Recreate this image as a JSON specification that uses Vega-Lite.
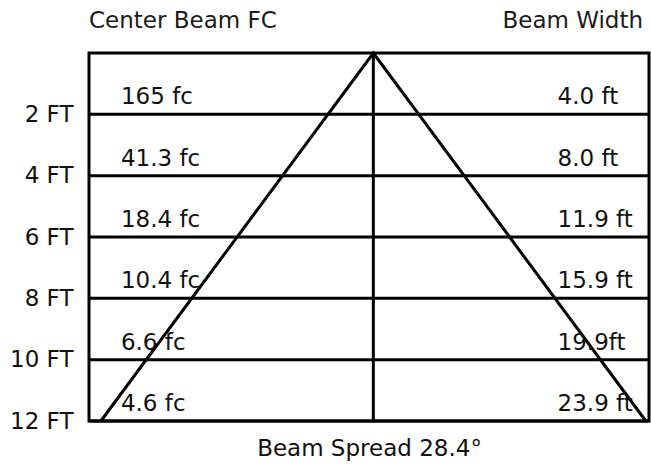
{
  "$schema": "https://vega.github.io/schema/vega-lite/v6.json",
  "width": 560,
  "height": 368,
  "autosize": {"type": "none"},
  "padding": {"left": 89, "top": 53, "right": 2, "bottom": 45},
  "background": "white",
  "config": {
    "view": {"stroke": "black", "strokeWidth": 3},
    "font": "DejaVu Sans"
  },
  "datasets": {
    "rows": [
      {"depth": 2, "fc": "165 fc", "width": "4.0 ft"},
      {"depth": 4, "fc": "41.3 fc", "width": "8.0 ft"},
      {"depth": 6, "fc": "18.4 fc", "width": "11.9 ft"},
      {"depth": 8, "fc": "10.4 fc", "width": "15.9 ft"},
      {"depth": 10, "fc": "6.6 fc", "width": "19.9ft"},
      {"depth": 12, "fc": "4.6 fc", "width": "23.9 ft"}
    ],
    "beam": [
      {"depth": 12, "offset": -11.95, "order": 1},
      {"depth": 0, "offset": 0, "order": 2},
      {"depth": 12, "offset": 11.95, "order": 3}
    ],
    "leftHeader": [{"depth": 0, "label": "Center Beam FC"}],
    "rightHeader": [{"depth": 0, "label": "Beam Width"}]
  },
  "encoding": {
    "y": {
      "field": "depth",
      "type": "quantitative",
      "scale": {"domain": [0, 12], "reverse": true, "nice": false, "zero": false},
      "axis": {
        "values": [2, 4, 6, 8, 10, 12],
        "labelExpr": "datum.value + ' FT'",
        "ticks": false,
        "domain": false,
        "grid": false,
        "title": null,
        "labelFontSize": 23,
        "labelFont": "DejaVu Sans",
        "labelColor": "#111",
        "labelPadding": 16
      }
    }
  },
  "layer": [
    {
      "data": {"name": "rows"},
      "mark": {"type": "rule", "color": "black", "strokeWidth": 3},
      "encoding": {}
    },
    {
      "data": {"name": "beam"},
      "mark": {"type": "line", "color": "black", "strokeWidth": 3},
      "encoding": {
        "x": {
          "field": "offset",
          "type": "quantitative",
          "scale": {"domain": [-12.47, 12.09], "nice": false, "zero": false},
          "axis": {
            "labels": false,
            "ticks": false,
            "domain": false,
            "grid": false,
            "title": "Beam Spread 28.4°",
            "titleFontSize": 23,
            "titleFont": "DejaVu Sans",
            "titleFontWeight": "normal",
            "titleColor": "#111",
            "titlePadding": 16
          }
        },
        "order": {"field": "order", "type": "quantitative"}
      }
    },
    {
      "data": {"name": "beam"},
      "transform": [{"filter": "datum.order == 2"}],
      "mark": {"type": "rule", "color": "black", "strokeWidth": 3},
      "encoding": {
        "x": {"field": "offset", "type": "quantitative"},
        "y": {"datum": 0},
        "y2": {"datum": 12}
      }
    },
    {
      "data": {"name": "rows"},
      "mark": {"type": "text", "align": "left", "baseline": "alphabetic", "dy": -10, "fontSize": 23, "color": "#111"},
      "encoding": {
        "x": {"datum": -11.07},
        "text": {"field": "fc"}
      }
    },
    {
      "data": {"name": "rows"},
      "mark": {"type": "text", "align": "left", "baseline": "alphabetic", "dy": -10, "fontSize": 23, "color": "#111"},
      "encoding": {
        "x": {"datum": 8.08},
        "text": {"field": "width"}
      }
    },
    {
      "data": {"name": "leftHeader"},
      "mark": {"type": "text", "align": "left", "baseline": "alphabetic", "dy": -25, "fontSize": 23, "color": "#1a1a1a"},
      "encoding": {
        "x": {"datum": -12.47},
        "text": {"field": "label"}
      }
    },
    {
      "data": {"name": "rightHeader"},
      "mark": {"type": "text", "align": "right", "baseline": "alphabetic", "dy": -25, "fontSize": 23, "color": "#1a1a1a"},
      "encoding": {
        "x": {"datum": 11.83},
        "text": {"field": "label"}
      }
    }
  ]
}
